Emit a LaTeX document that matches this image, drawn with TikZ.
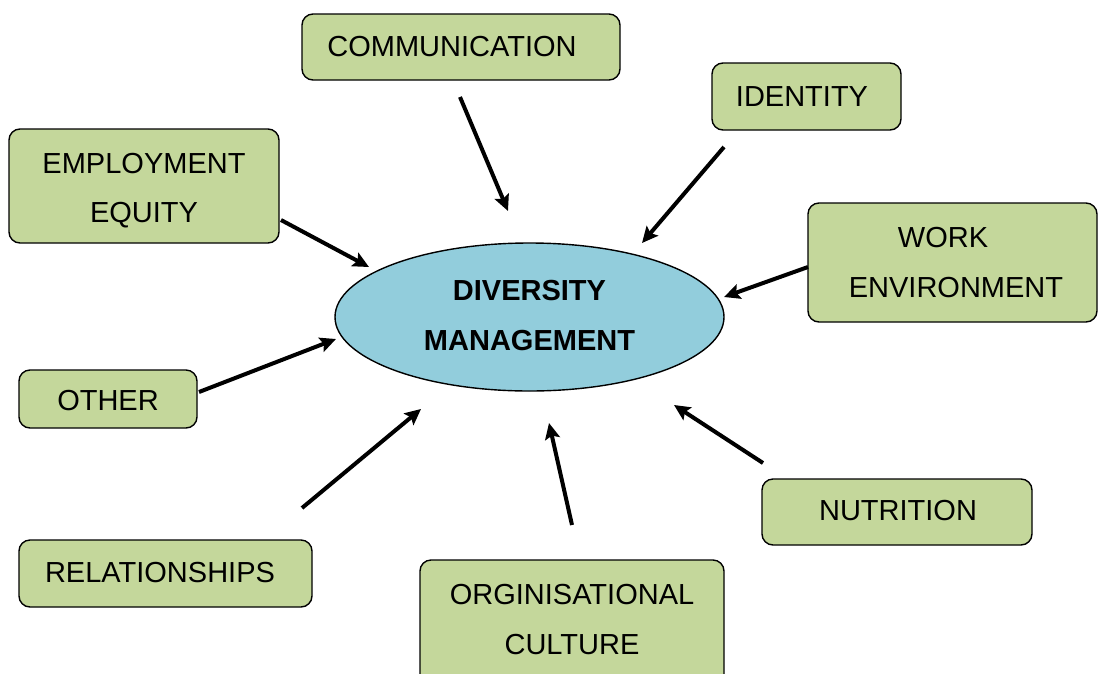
\documentclass[tikz,border=0pt]{standalone}
\usepackage{fontspec}
\setmainfont{Liberation Sans}
\usetikzlibrary{arrows.meta}
\definecolor{boxgreen}{HTML}{C4D79B}
\definecolor{ellblue}{HTML}{92CDDC}
\begin{document}
\begin{tikzpicture}[x=1pt,y=-1pt,
  box/.style={draw=black, line width=1.4pt, fill=boxgreen, rounded corners=11pt, inner sep=0pt},
  lbl/.style={anchor=base, inner sep=0pt, font=\fontsize{29}{35}\selectfont},
  blbl/.style={anchor=base, inner sep=0pt, font=\fontsize{29}{35}\selectfont\bfseries},
  arr/.style={line width=4pt, -{Stealth[length=16pt,width=15pt,inset=3pt]}}]
\useasboundingbox (0,0) rectangle (1098,673);
% boxes
\node[box, minimum width=318pt, minimum height=66pt] (comm) at (461,47) {};
\node[lbl] (tcomm) at (452,56) {COMMUNICATION};
\node[box, minimum width=189pt, minimum height=67pt] (iden) at (806.5,96.5) {};
\node[lbl] (tiden) at (802,106) {IDENTITY};
\node[box, minimum width=270pt, minimum height=114pt] (empl) at (144,186) {};
\node[lbl] (templ1) at (144,173) {EMPLOYMENT};
\node[lbl] (templ2) at (144,222) {EQUITY};
\node[box, minimum width=289pt, minimum height=119pt] (work) at (952.5,262.5) {};
\node[lbl] (twork1) at (943,247) {WORK};
\node[lbl] (twork2) at (956,297) {ENVIRONMENT};
\node[box, minimum width=178pt, minimum height=58pt] (other) at (108,399) {};
\node[lbl] (tother) at (108,410) {OTHER};
\node[box, minimum width=293pt, minimum height=67pt] (rel) at (165.5,573.5) {};
\node[lbl] (trel) at (160,582) {RELATIONSHIPS};
\node[box, minimum width=304pt, minimum height=130pt] (org) at (572,625) {};
\node[lbl] (torg1) at (572,604) {ORGINISATIONAL};
\node[lbl] (torg2) at (572,654) {CULTURE};
\node[box, minimum width=270pt, minimum height=66pt] (nutr) at (897,512) {};
\node[lbl] (tnutr) at (898,520) {NUTRITION};
% ellipse
\draw[line width=1.4pt, fill=ellblue] (529.5,317) ellipse [x radius=194.5, y radius=74];
\coordinate (dm) at (529.5,317);
\node[blbl] (tdm1) at (529.5,300) {DIVERSITY};
\node[blbl] (tdm2) at (529.5,350) {MANAGEMENT};
% arrow ends
\coordinate (a1s) at (460,97);  \coordinate (a1e) at (508,211);
\coordinate (a2s) at (724,147); \coordinate (a2e) at (642,243);
\coordinate (a3s) at (281,220); \coordinate (a3e) at (369,267);
\coordinate (a4s) at (808,267); \coordinate (a4e) at (724,297);
\coordinate (a5s) at (199,392); \coordinate (a5e) at (336,339);
\coordinate (a6s) at (302,508); \coordinate (a6e) at (421,409);
\coordinate (a7s) at (572,525); \coordinate (a7e) at (549,423);
\coordinate (a8s) at (763,463); \coordinate (a8e) at (674,405);
\draw[arr] (a1s) -- (a1e);
\draw[arr] (a2s) -- (a2e);
\draw[arr] (a3s) -- (a3e);
\draw[arr] (a4s) -- (a4e);
\draw[arr] (a5s) -- (a5e);
\draw[arr] (a6s) -- (a6e);
\draw[arr] (a7s) -- (a7e);
\draw[arr] (a8s) -- (a8e);
\end{tikzpicture}
\end{document}
